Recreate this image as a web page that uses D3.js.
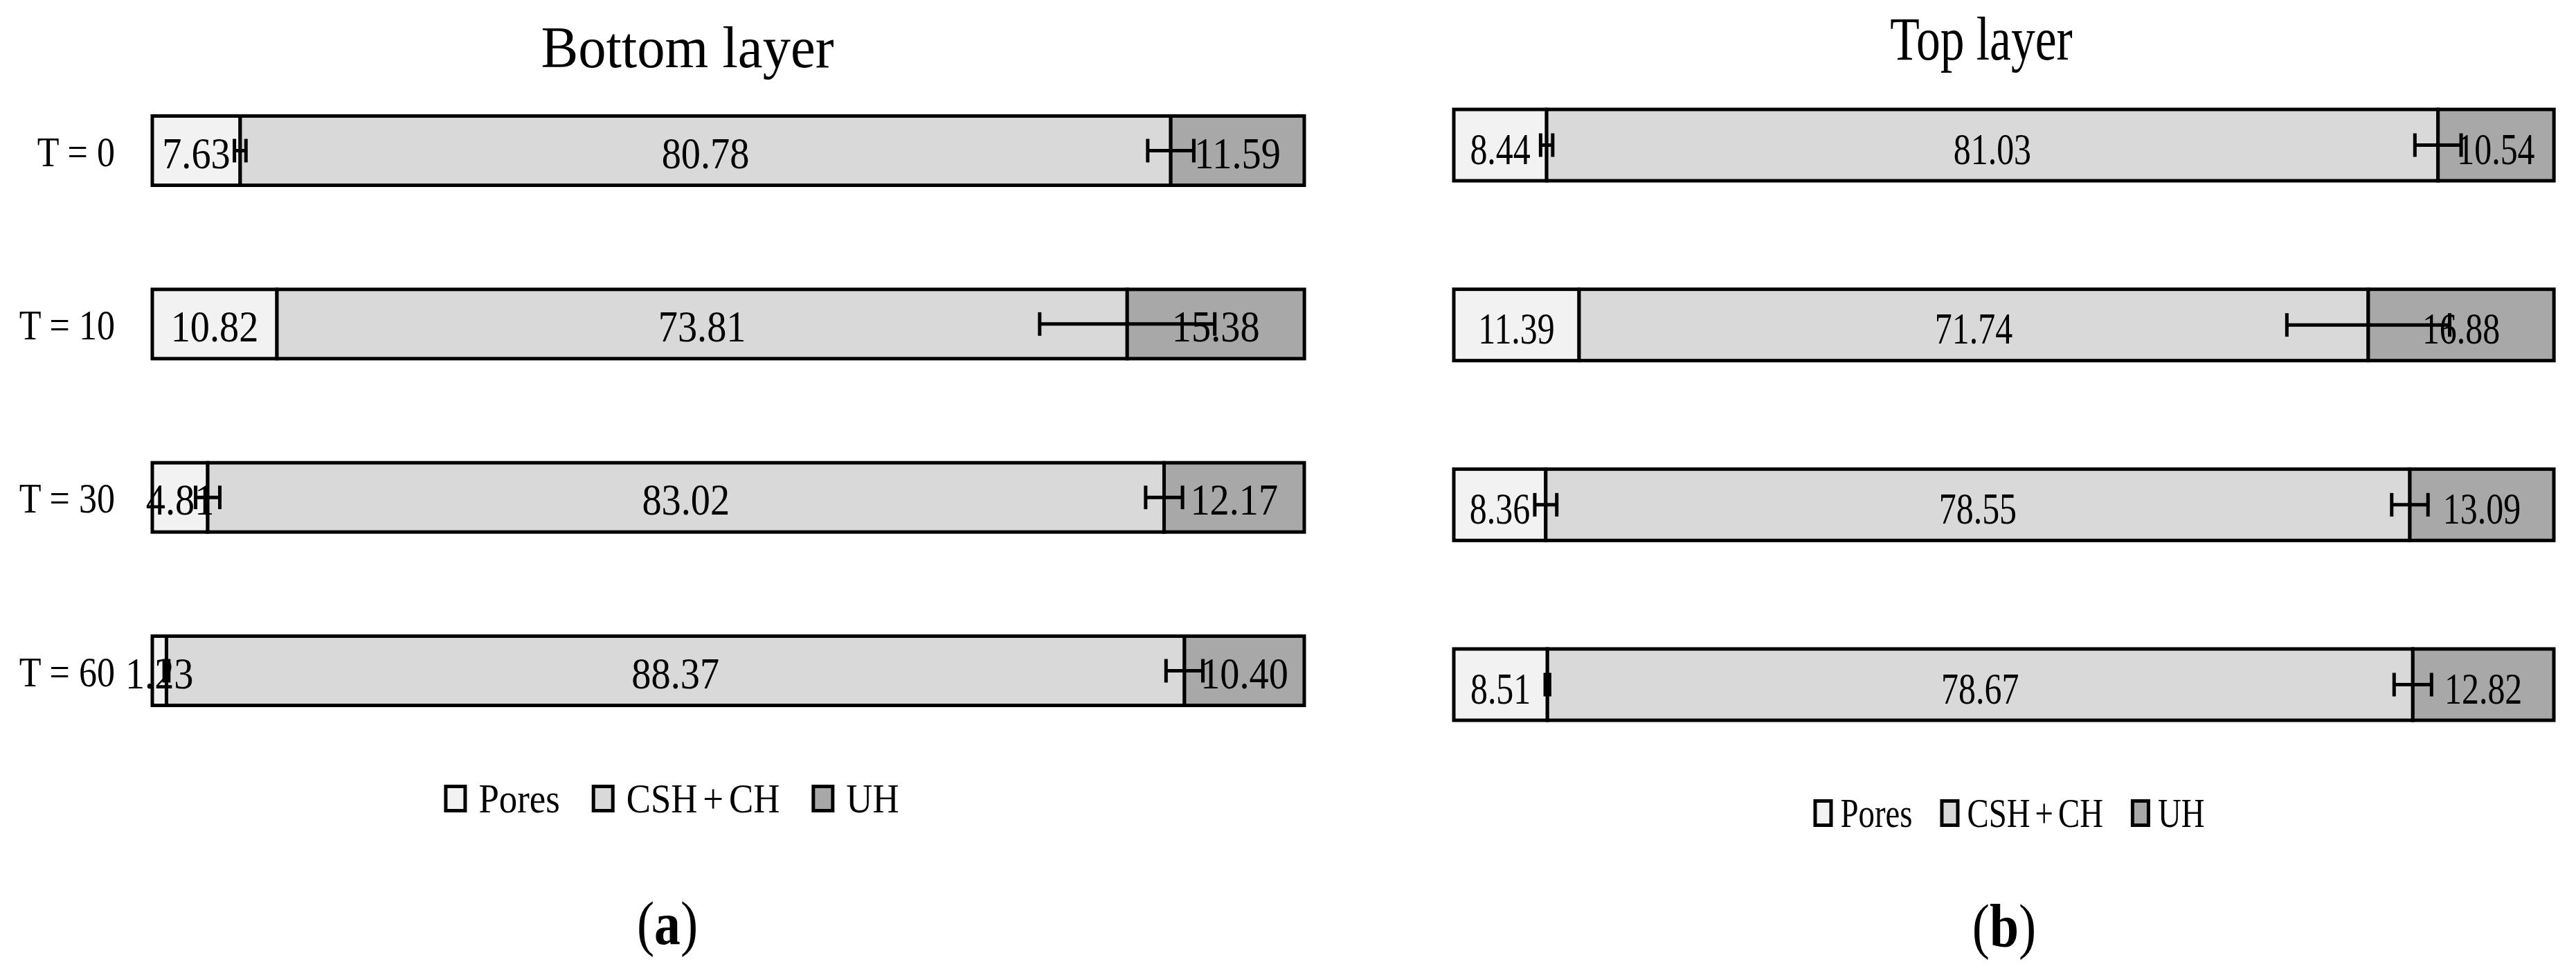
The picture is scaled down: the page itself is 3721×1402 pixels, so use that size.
<!DOCTYPE html>
<html>
<head>
<meta charset="utf-8">
<title>Bottom / Top layer</title>
<script src="https://d3js.org/d3.v7.min.js"></script>
<style>
  body { margin: 0; background: #fff; }
  text { font-family: "Liberation Serif", "DejaVu Serif", serif; fill: #000; }
</style>
</head>
<body>
<div id="chart"></div>
<script>
// categories and series
var times = ["T = 0", "T = 10", "T = 30", "T = 60"];
var series = ["Pores", "CSH + CH", "UH"];
var colors = ["#f2f2f2", "#d9d9d9", "#a8a8a8"];

// (a) bottom layer
var bottomPores = [7.63, 10.82, 4.81, 1.23];
var bottomCsh   = [80.78, 73.81, 83.02, 88.37];
var bottomUh    = [11.59, 15.38, 12.17, 10.40];
var bottomPoresErr = [0.5, 0, 1.05, 0.2];
var bottomCshErr   = [2.0, 7.6, 1.6, 1.6];

// (b) top layer
var topPores = [8.44, 11.39, 8.36, 8.51];
var topCsh   = [81.03, 71.74, 78.55, 78.67];
var topUh    = [10.54, 16.88, 13.09, 12.82];
var topPoresErr = [0.55, 0, 1.0, 0.2];
var topCshErr   = [2.1, 7.4, 1.65, 1.7];

var W = 3721, H = 1402;
var fmt = d3.format(".2f");

var svg = d3.select("#chart").append("svg")
    .attr("width", W).attr("height", H);
svg.append("rect").attr("width", W).attr("height", H).attr("fill", "#fff");

function rows(p, c, u) {
  return times.map(function(t, i) {
    var r = { t: t };
    r[series[0]] = p[i]; r[series[1]] = c[i]; r[series[2]] = u[i];
    return r;
  });
}

// text squeezed horizontally like the original figure
function sq(sel, x, y, sx) {
  return sel.attr("transform", "translate(" + x + "," + y + ") scale(" + sx + ",1)");
}

function drawPanel(cfg) {
  var data = rows(cfg.pores, cfg.csh, cfg.uh);
  var stacked = d3.stack().keys(series)(data);

  var x = d3.scaleLinear().domain([0, 100]).range(cfg.xr);
  var step = (cfg.yc[1] - cfg.yc[0]) / (times.length - 1);
  var pin = 1 - cfg.bh / step;
  var y = d3.scaleBand().domain(times)
      .range([cfg.yc[0] - step / 2, cfg.yc[1] + step / 2])
      .paddingInner(pin).paddingOuter(pin / 2);

  var g = svg.append("g");

  // title
  sq(g.append("text").attr("text-anchor", "middle")
      .style("font-size", cfg.titleSize + "px").text(cfg.title),
     cfg.titleX, cfg.titleY, cfg.titleSx);

  // segments
  var layers = g.selectAll("g.layer").data(stacked).enter().append("g")
      .attr("fill", function(d, i) { return colors[i]; });
  layers.selectAll("rect").data(function(d) { return d; }).enter().append("rect")
      .attr("x", function(d) { return x(d[0]); })
      .attr("width", function(d) { return x(d[1]) - x(d[0]); })
      .attr("y", function(d) { return y(d.data.t); })
      .attr("height", y.bandwidth())
      .attr("stroke", "#000").attr("stroke-width", 5);

  // error bars at the end of Pores and of CSH + CH
  var errs = [];
  times.forEach(function(t, i) {
    errs.push({ t: t, v: cfg.pores[i], e: cfg.poresErr[i] });
    errs.push({ t: t, v: cfg.pores[i] + cfg.csh[i], e: cfg.cshErr[i] });
  });
  errs = errs.filter(function(d) { return d.e > 0; });
  var cy = function(d) { return y(d.t) + y.bandwidth() / 2; };
  var eb = g.selectAll("g.err").data(errs).enter().append("g")
      .attr("stroke", "#000").attr("stroke-width", 5);
  eb.append("line")
      .attr("x1", function(d) { return x(d.v - d.e); })
      .attr("x2", function(d) { return x(d.v + d.e); })
      .attr("y1", cy).attr("y2", cy);
  [-1, 1].forEach(function(s) {
    eb.append("line")
        .attr("x1", function(d) { return x(d.v + s * d.e); })
        .attr("x2", function(d) { return x(d.v + s * d.e); })
        .attr("y1", function(d) { return cy(d) - 17; })
        .attr("y2", function(d) { return cy(d) + 17; });
  });

  // value labels
  stacked.forEach(function(layer) {
    layer.forEach(function(d) {
      var key = layer.key;
      sq(g.append("text").attr("text-anchor", "middle")
          .style("font-size", cfg.valSize + "px").text(fmt(d.data[key])),
         (x(d[0]) + x(d[1])) / 2, y(d.data.t) + y.bandwidth() / 2 + cfg.valDy, cfg.sx);
    });
  });

  // category labels
  if (cfg.cats) {
    times.forEach(function(t) {
      sq(g.append("text").attr("text-anchor", "end")
          .style("font-size", "62px").text(t),
         cfg.catX, y(t) + y.bandwidth() / 2 + 22, 0.84);
    });
  }

  // legend
  var lg = g.append("g");
  var cx = 0;
  series.forEach(function(s, i) {
    lg.append("rect").attr("x", cx + 2.5).attr("y", -cfg.lgBoxH + 2.5)
        .attr("width", cfg.lgBoxW - 5).attr("height", cfg.lgBoxH - 5)
        .attr("fill", colors[i]).attr("stroke", "#000").attr("stroke-width", 5);
    var tx = lg.append("text").style("font-size", cfg.lgSize + "px")
        .style("word-spacing", "-6px").text(s);
    sq(tx, cx + cfg.lgBoxW + cfg.lgGap, 0, cfg.sx);
    cx += cfg.lgBoxW + cfg.lgGap + tx.node().getComputedTextLength() * cfg.sx + cfg.lgItemGap;
  });
  var lgW = cx - cfg.lgItemGap;
  lg.attr("transform", "translate(" + (cfg.lgCenter - lgW / 2) + "," + cfg.lgY + ")");

  // panel letter
  var pl = g.append("text").attr("text-anchor", "middle").style("font-size", "88px");
  pl.append("tspan").text("(");
  pl.append("tspan").style("font-weight", "bold").text(cfg.letter);
  pl.append("tspan").text(")");
  sq(pl, cfg.letterX, cfg.letterY, 0.86);
}

drawPanel({
  title: "Bottom layer", titleX: 993, titleY: 97, titleSize: 84, titleSx: 0.96,
  pores: bottomPores, csh: bottomCsh, uh: bottomUh,
  poresErr: bottomPoresErr, cshErr: bottomCshErr,
  xr: [220, 1884], yc: [217.5, 968.5], bh: 100,
  valSize: 64, valDy: 25, sx: 0.88,
  cats: true, catX: 166,
  lgCenter: 970, lgY: 1173, lgBoxW: 33, lgBoxH: 40, lgGap: 17, lgItemGap: 46, lgSize: 60,
  letter: "a", letterX: 964, letterY: 1363
});

drawPanel({
  title: "Top layer", titleX: 2862, titleY: 86, titleSize: 88, titleSx: 0.79,
  pores: topPores, csh: topCsh, uh: topUh,
  poresErr: topPoresErr, cshErr: topCshErr,
  xr: [2100, 3689], yc: [209.5, 988.5], bh: 103,
  valSize: 64, valDy: 27, sx: 0.78,
  cats: false,
  lgCenter: 2902, lgY: 1194, lgBoxW: 28, lgBoxH: 40, lgGap: 11, lgItemGap: 40, lgSize: 60,
  letter: "b", letterX: 2895, letterY: 1367
});
</script>
</body>
</html>
